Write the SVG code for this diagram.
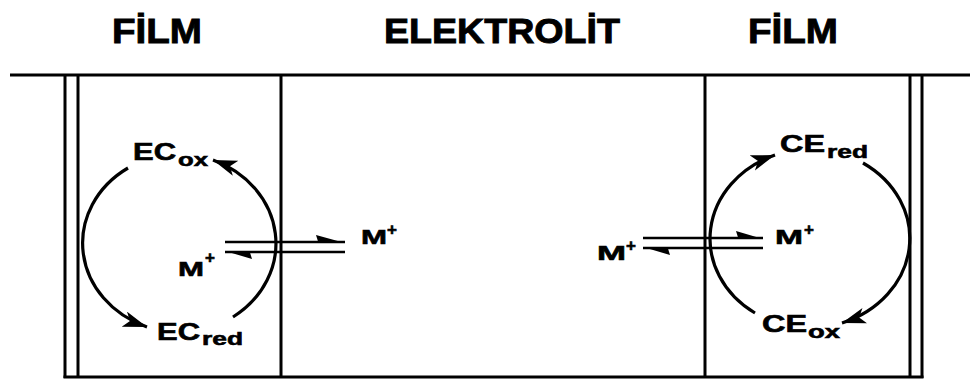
<svg xmlns="http://www.w3.org/2000/svg" width="970" height="380" viewBox="0 0 970 380">
<style>
.t{font-family:"Liberation Sans",Arial,sans-serif;font-weight:bold;fill:#000;stroke:#000;stroke-width:0.6}
.h{font-size:35px;stroke-width:0.9}
.b{font-size:23px}
.s{font-size:19px}
.m{font-size:21px}
.p{font-size:17px}
.w{stroke:#000;stroke-width:3;fill:none}
.c{stroke:#000;stroke-width:3.2;fill:none}
.l{stroke:#000;stroke-width:2.6;fill:none}
</style>
<defs>
<marker id="ah" markerUnits="userSpaceOnUse" markerWidth="26" markerHeight="18" refX="24" refY="8" orient="auto">
<path d="M0,0 L24,8 L0,16 L6,8 z" fill="#000"/>
</marker>
</defs>
<rect width="970" height="380" fill="#fff"/>
<g id="headers">
<text class="t h" x="112" y="43" textLength="90" lengthAdjust="spacingAndGlyphs">FİLM</text>
<text class="t h" x="384" y="43" textLength="236" lengthAdjust="spacingAndGlyphs">ELEKTROLİT</text>
<text class="t h" x="748" y="43" textLength="90" lengthAdjust="spacingAndGlyphs">FİLM</text>
</g>
<g id="walls">
<line class="w" x1="10" y1="75" x2="970" y2="75"/>
<line class="w" x1="63.5" y1="377" x2="923.5" y2="377"/>
<line class="w" x1="65" y1="75" x2="65" y2="378"/>
<line class="w" x1="78" y1="75" x2="78" y2="378"/>
<line class="w" x1="281" y1="75" x2="281" y2="378"/>
<line class="w" x1="705" y1="75" x2="705" y2="378"/>
<line class="w" x1="910" y1="75" x2="910" y2="378"/>
<line class="w" x1="922" y1="75" x2="922" y2="378"/>
</g>
<g id="EC_ox"><text class="t b" x="133" y="160" textLength="43" lengthAdjust="spacingAndGlyphs">EC</text><text class="t s" x="178" y="166" textLength="30" lengthAdjust="spacingAndGlyphs">ox</text></g>
<g id="EC_red"><text class="t b" x="157" y="340" textLength="43" lengthAdjust="spacingAndGlyphs">EC</text><text class="t s" x="202" y="345" textLength="41" lengthAdjust="spacingAndGlyphs">red</text></g>
<g id="CE_red"><text class="t b" x="780" y="152" textLength="45" lengthAdjust="spacingAndGlyphs">CE</text><text class="t s" x="827" y="158" textLength="41" lengthAdjust="spacingAndGlyphs">red</text></g>
<g id="CE_ox"><text class="t b" x="762" y="332" textLength="45" lengthAdjust="spacingAndGlyphs">CE</text><text class="t s" x="808" y="338" textLength="32" lengthAdjust="spacingAndGlyphs">ox</text></g>
<g id="M_left_film"><text class="t m" x="178" y="276" textLength="26" lengthAdjust="spacingAndGlyphs">M</text><text class="t p" x="205" y="263">+</text></g>
<g id="M_left_elec"><text class="t m" x="361" y="244" textLength="26" lengthAdjust="spacingAndGlyphs">M</text><text class="t p" x="387" y="235">+</text></g>
<g id="M_right_elec"><text class="t m" x="597" y="260" textLength="29" lengthAdjust="spacingAndGlyphs">M</text><text class="t p" x="626" y="251">+</text></g>
<g id="M_right_film"><text class="t m" x="775" y="244" textLength="28" lengthAdjust="spacingAndGlyphs">M</text><text class="t p" x="804" y="235">+</text></g>
<g id="connectors">
<path class="c" d="M128,168 A101,90 0 0,0 147,327" marker-end="url(#ah)"/>
<path class="c" d="M233,317 A101,90 0 0,0 213,160" marker-end="url(#ah)"/>
<path class="c" d="M755,313 A103,90 0 0,1 775,155" marker-end="url(#ah)"/>
<path class="c" d="M863,163 A103,90 0 0,1 842,323" marker-end="url(#ah)"/>
<line class="l" x1="225" y1="242" x2="345" y2="242"/>
<polygon points="345,243 316,235 318,241.5"/>
<line class="l" x1="225" y1="252" x2="345" y2="252"/>
<polygon points="225,251 252,259 250,252.5"/>
<line class="l" x1="643" y1="238" x2="763" y2="238"/>
<polygon points="763,239 736,231 738,237.5"/>
<line class="l" x1="643" y1="248" x2="763" y2="248"/>
<polygon points="643,247 670,255 668,248.5"/>
</g>
</svg>
